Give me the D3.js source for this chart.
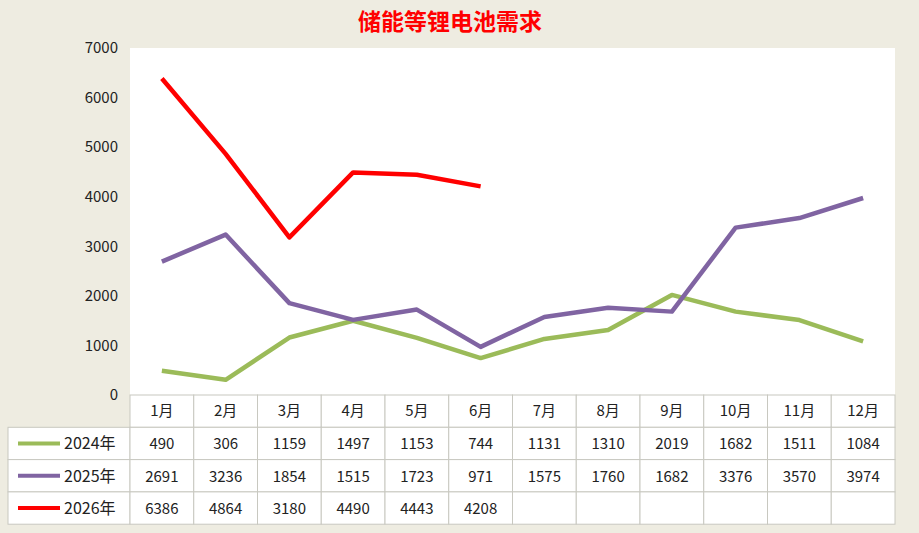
<!DOCTYPE html><html><head><meta charset="utf-8"><script src="https://cdn.jsdelivr.net/npm/d3@7"></script>
<style>body{margin:0;background:#eeece1}svg{display:block}</style></head><body><svg width="919" height="533"></svg>
<script>
const months=["1月","2月","3月","4月","5月","6月","7月","8月","9月","10月","11月","12月"];
const seriesNames=["2024年","2025年","2026年"];
const s2024=[490,306,1159,1497,1153,744,1131,1310,2019,1682,1511,1084];
const s2025=[2691,3236,1854,1515,1723,971,1575,1760,1682,3376,3570,3974];
const s2026=[6386,4864,3180,4490,4443,4208];
const yTicks=[0,1000,2000,3000,4000,5000,6000,7000];
const colors=["#9bbb59","#8064a2","#ff0000"];
const data=[s2024,s2025,s2026];
const svg=d3.select("svg");
const L=130,R=895,T=48,B=395;
svg.append("rect").attr("width",919).attr("height",533).attr("fill","#eeece1");
svg.append("rect").attr("x",L).attr("y",T).attr("width",R-L).attr("height",B-T).attr("fill","#fff");
svg.append("text").attr("x",450).attr("y",30).attr("text-anchor","middle").attr("fill","#ff0000")
 .attr("font-family","Noto Sans CJK SC").attr("font-weight","bold").attr("font-size",23).text("储能等锂电池需求");
const x=d3.scaleBand().domain(months).range([L,R]);
const y=d3.scaleLinear().domain([0,7000]).range([B,T]);
const ax=svg.append("g").attr("transform",`translate(${L},0)`).call(d3.axisLeft(y).tickValues(yTicks).tickFormat(d3.format("d")).tickSize(0).tickPadding(12));
ax.select(".domain").remove();
ax.selectAll("text").attr("font-family","Noto Sans CJK SC").attr("font-size",15).attr("fill","#222");
const line=d3.line().x((d,i)=>x(months[i])+x.bandwidth()/2).y(d=>y(d));
data.forEach((s,k)=>svg.append("path").attr("d",line(s)).attr("fill","none").attr("stroke",colors[k]).attr("stroke-width",4.5).attr("stroke-linejoin","round"));
const rowH=32.3, tb=svg.append("g");
const rowsY=[B,B+rowH,B+2*rowH,B+3*rowH];
const bc="#c8c8c0";
for(let r=0;r<4;r++){
 const yy=rowsY[r];
 if(r>0){tb.append("rect").attr("x",8).attr("y",yy).attr("width",L-8).attr("height",rowH).attr("fill","#fff").attr("stroke",bc);}
 months.forEach((m,i)=>{tb.append("rect").attr("x",x(m)).attr("y",yy).attr("width",x.bandwidth()).attr("height",rowH).attr("fill","#fff").attr("stroke",bc);});
}
months.forEach(m=>tb.append("text").attr("x",x(m)+x.bandwidth()/2).attr("y",B+rowH/2+5).attr("text-anchor","middle")
 .attr("font-family","Noto Sans CJK SC").attr("font-size",15).attr("fill","#222").text(m));
data.forEach((s,k)=>{
 const yy=rowsY[k+1];
 tb.append("line").attr("x1",18).attr("x2",60).attr("y1",yy+rowH/2).attr("y2",yy+rowH/2).attr("stroke",colors[k]).attr("stroke-width",4);
 tb.append("text").attr("x",64).attr("y",yy+rowH/2+6).attr("font-family","Noto Sans CJK SC").attr("font-size",16).attr("fill","#222").text(seriesNames[k]);
 s.forEach((v,i)=>tb.append("text").attr("x",x(months[i])+x.bandwidth()/2).attr("y",yy+rowH/2+6).attr("text-anchor","middle")
  .attr("font-family","Noto Sans CJK SC").attr("font-size",15).attr("fill","#222").text(v));
});
</script></body></html>
